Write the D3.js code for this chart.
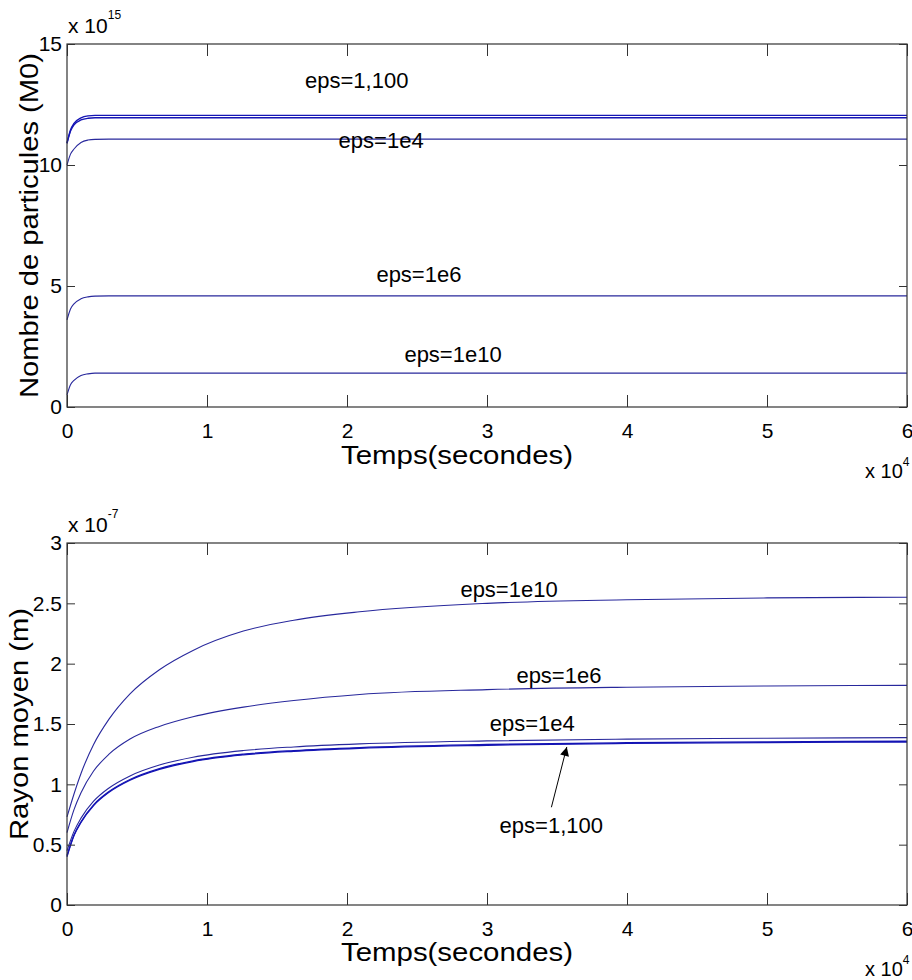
<!DOCTYPE html>
<html><head><meta charset="utf-8">
<script src="https://cdn.jsdelivr.net/npm/d3@7"></script>
<style>
body{margin:0;background:#fff}
svg text{font-family:"Liberation Sans",Arial,Helvetica,sans-serif;fill:#000}
</style>
</head><body>
<svg id="chart" width="912" height="980"></svg>
<script>
// ---------- DATA ----------
// Top panel: number of particles (units of 1e15) vs time (seconds)
const timeTop = [0,250,500,1000,1500,2000,3000,10000,20000,30000,40000,50000,60000];
const particlesEps1    = [10.9,11.45,11.72,11.95,12.03,12.05,12.05,12.05,12.05,12.05,12.05,12.05,12.05];
const particlesEps100  = [10.9,11.40,11.66,11.86,11.93,11.95,11.95,11.95,11.95,11.95,11.95,11.95,11.95];
const particlesEps1e4  = [10.0,10.45,10.66,10.93,11.03,11.06,11.07,11.07,11.07,11.07,11.07,11.07,11.07];
const particlesEps1e6  = [3.6,4.05,4.26,4.47,4.55,4.58,4.59,4.59,4.59,4.59,4.59,4.59,4.59];
const particlesEps1e10 = [0.5,0.92,1.10,1.30,1.37,1.40,1.40,1.40,1.40,1.40,1.40,1.40,1.40];

// Bottom panel: mean radius (units of 1e-7 m) vs time (seconds)
const timeBottom = [0,500,1000,1900,3000,4500,6600,9000,12600,16200,20900,30000,40000,50000,60000];
const radiusEps1e10 = [0.73,0.92,1.09,1.33,1.54,1.75,1.95,2.11,2.27,2.36,2.43,2.50,2.53,2.545,2.55];
const radiusEps1e6  = [0.60,0.79,0.93,1.11,1.25,1.375,1.48,1.56,1.64,1.695,1.745,1.785,1.805,1.815,1.82];
const radiusEps1e4  = [0.45,0.61,0.72,0.86,0.97,1.07,1.16,1.225,1.28,1.31,1.335,1.36,1.375,1.382,1.387];
const radiusEps1    = [0.41,0.58,0.69,0.83,0.94,1.04,1.13,1.195,1.25,1.28,1.305,1.33,1.345,1.352,1.357];
const radiusEps100  = [0.40,0.575,0.684,0.824,0.934,1.034,1.124,1.189,1.244,1.274,1.299,1.324,1.339,1.346,1.351];

// Ticks and labels
const xTicks = [0,10000,20000,30000,40000,50000,60000];
const yTicksTop = [0,5,10,15];
const yTicksBottom = [0,0.5,1,1.5,2,2.5,3];
const xLabel = "Temps(secondes)";
const yLabelTop = "Nombre de particules (M0)";
const yLabelBottom = "Rayon moyen (m)";

// Annotations (text, anchor in data coordinates)
const annotTop = [
  {text:"eps=1,100", t:17000, v:13.18},
  {text:"eps=1e4",   t:19400, v:10.7},
  {text:"eps=1e6",   t:22100, v:5.15},
  {text:"eps=1e10",  t:24100, v:1.86}
];
const annotBottom = [
  {text:"eps=1e10",  t:28100, v:2.55},
  {text:"eps=1e6",   t:32100, v:1.84},
  {text:"eps=1e4",   t:30200, v:1.445},
  {text:"eps=1,100", t:30900, v:0.60}
];
const arrowBottom = {t0:34600, v0:0.81, t1:35700, v1:1.31};

// ---------- DRAW ----------
const svg = d3.select("#chart");
const W = 912, H = 980;
svg.append("rect").attr("width",W).attr("height",H).attr("fill","#fff");

const defs = svg.append("defs");
defs.append("marker").attr("id","ah").attr("viewBox","0 0 10 10")
  .attr("refX",10).attr("refY",5).attr("markerWidth",16).attr("markerHeight",9)
  .attr("markerUnits","userSpaceOnUse").attr("orient","auto")
  .append("path").attr("d","M0,0 L10,5 L0,10 Z").attr("fill","#000");

function panel(cfg){
  const x = d3.scaleLinear().domain([0,60000]).range([67,907]);
  const y = d3.scaleLinear().domain(cfg.ydom).range([cfg.yb,cfg.yt]);
  const g = svg.append("g");

  const line = d3.line().x(d=>x(d[0])).y(d=>y(d[1])).curve(d3.curveMonotoneX);
  cfg.series.forEach(s=>{
    g.append("path").datum(cfg.time.map((t,i)=>[t,s.values[i]]))
      .attr("d",line).attr("fill","none").attr("stroke",s.color).attr("stroke-width",s.w);
  });

  const axisStyle = sel=>{
    sel.select(".domain").remove();
    sel.selectAll(".tick line").attr("stroke","#333").attr("stroke-width",1);
    sel.selectAll(".tick text").attr("font-size",21).attr("fill","#000");
  };
  g.append("g").attr("transform",`translate(0,${cfg.yb})`)
    .call(d3.axisBottom(x).tickValues(xTicks).tickSizeInner(-12).tickSizeOuter(0).tickPadding(16)
      .tickFormat(d=>d/10000)).call(axisStyle);
  g.append("g").attr("transform",`translate(0,${cfg.yt})`)
    .call(d3.axisTop(x).tickValues(xTicks).tickSizeInner(-12).tickSizeOuter(0).tickFormat(""))
    .call(axisStyle);
  g.append("g").attr("transform",`translate(67,0)`)
    .call(d3.axisLeft(y).tickValues(cfg.yticks).tickSizeInner(-8).tickSizeOuter(0).tickPadding(5)
      .tickFormat(d=>String(d))).call(axisStyle);
  g.append("g").attr("transform",`translate(907,0)`)
    .call(d3.axisRight(y).tickValues(cfg.yticks).tickSizeInner(-8).tickSizeOuter(0).tickFormat(""))
    .call(axisStyle);

  g.append("rect").attr("x",67).attr("y",cfg.yt).attr("width",840).attr("height",cfg.yb-cfg.yt)
    .attr("fill","none").attr("stroke","#333").attr("stroke-width",1.2);

  // exponent labels
  const ex = g.append("text").attr("x",68).attr("y",cfg.yt-11).attr("font-size",21);
  ex.append("tspan").text("x 10");
  ex.append("tspan").attr("font-size",12).attr("dy",-14).text(cfg.yexp);
  const ex2 = g.append("text").attr("x",865).attr("y",cfg.yb+71).attr("font-size",20);
  ex2.append("tspan").text("x 10");
  ex2.append("tspan").attr("font-size",12).attr("dy",-12).text("4");

  // axis labels
  g.append("text").attr("x",457).attr("y",cfg.yb+cfg.xlabDy).attr("text-anchor","middle")
    .attr("font-size",25).attr("textLength",232).attr("lengthAdjust","spacingAndGlyphs").text(xLabel);
  g.append("text").attr("transform",`translate(${cfg.ylabX},${(cfg.yt+cfg.yb)/2}) rotate(-90)`)
    .attr("text-anchor","middle").attr("font-size",25)
    .attr("textLength",cfg.ylabLen).attr("lengthAdjust","spacingAndGlyphs").text(cfg.ylab);

  cfg.annot.forEach(a=>{
    g.append("text").attr("x",x(a.t)).attr("y",y(a.v)).attr("font-size",22).text(a.text);
  });
  if(cfg.arrow){
    const a = cfg.arrow;
    g.append("line").attr("x1",x(a.t0)).attr("y1",y(a.v0)).attr("x2",x(a.t1)).attr("y2",y(a.v1))
      .attr("stroke","#000").attr("stroke-width",1).attr("marker-end","url(#ah)");
  }
}

const thin = "#28289c", strong = "#1414b4";
panel({
  ydom:[0,15], yt:44, yb:407, yticks:yTicksTop, yexp:"15", ylab:yLabelTop, ylabX:38, ylabLen:345, xlabDy:57,
  time:timeTop,
  series:[
    {values:particlesEps1, color:strong, w:1.4},
    {values:particlesEps100, color:strong, w:1.4},
    {values:particlesEps1e4, color:thin, w:1.1},
    {values:particlesEps1e6, color:thin, w:1.1},
    {values:particlesEps1e10, color:thin, w:1.1}
  ],
  annot:annotTop
});
panel({
  ydom:[0,3], yt:543, yb:905, yticks:yTicksBottom, yexp:"-7", ylab:yLabelBottom, ylabX:28, ylabLen:232, xlabDy:56,
  time:timeBottom,
  series:[
    {values:radiusEps1e10, color:thin, w:1.1},
    {values:radiusEps1e6, color:thin, w:1.1},
    {values:radiusEps1e4, color:thin, w:1.1},
    {values:radiusEps1, color:strong, w:1.3},
    {values:radiusEps100, color:strong, w:1.3}
  ],
  annot:annotBottom, arrow:arrowBottom
});
</script>
</body></html>
